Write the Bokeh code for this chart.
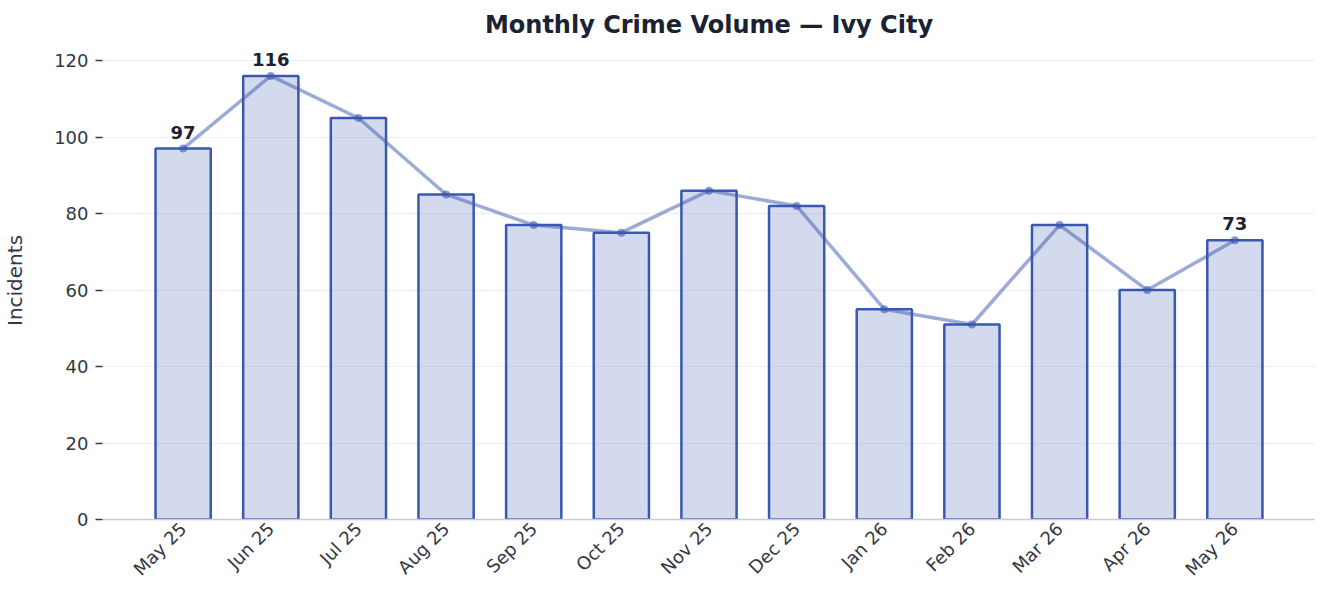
import math
from bokeh.plotting import figure
from bokeh.models import ColumnDataSource, FactorRange, Range1d, LabelSet
from bokeh.core.properties import value
from bokeh.embed import file_html
from bokeh.resources import INLINE

months = ["May 25", "Jun 25", "Jul 25", "Aug 25", "Sep 25", "Oct 25", "Nov 25",
          "Dec 25", "Jan 26", "Feb 26", "Mar 26", "Apr 26", "May 26"]
incidents = [97, 116, 105, 85, 77, 75, 86, 82, 55, 51, 77, 60, 73]
y_ticks = [0, 20, 40, 60, 80, 100, 120]

labelled = [0, incidents.index(max(incidents)), len(incidents) - 1]

src = ColumnDataSource(dict(x=months, y=incidents))
lab_src = ColumnDataSource(dict(x=[months[i] for i in labelled],
                                y=[incidents[i] for i in labelled],
                                t=[str(incidents[i]) for i in labelled]))

FONT = "DejaVu Sans"
BLUE = "#3a58b0"
TXT = "#333844"

p = figure(frame_width=1213, frame_height=478, output_backend="svg",
           toolbar_location=None,
           x_range=FactorRange(factors=months, range_padding=0.42,
                               range_padding_units="absolute"),
           y_range=Range1d(0, 125),
           min_border_left=99, min_border_right=0, min_border_top=41,
           min_border_bottom=72)

p.title.text = "Monthly Crime Volume \u2014 Ivy City"
p.title.align = "center"
p.title.text_font = FONT
p.title.text_font_size = "24px"
p.title.text_font_style = "bold"
p.title.text_color = "#1a2233"
p.title.offset = 0
p.title.standoff = 6

p.vbar(x="x", top="y", width=0.63, source=src, fill_color=BLUE, fill_alpha=0.22,
       line_color=BLUE, line_width=2.5)
p.line(x="x", y="y", source=src, line_color=BLUE, line_alpha=0.5, line_width=3.5)
p.scatter(x="x", y="y", source=src, size=8, fill_color=BLUE, line_color=BLUE,
          fill_alpha=0.6, line_alpha=0.0)

labels = LabelSet(x="x", y="y", text="t", source=lab_src, y_offset=10,
                  text_align="center", text_baseline="bottom",
                  text_font=value(FONT), text_font_size=value("18px"),
                  text_font_style=value("bold"), text_color=value("#1a2233"))
p.add_layout(labels)

p.outline_line_color = None
p.xgrid.grid_line_color = None
p.ygrid.grid_line_color = "#eceef3"
p.ygrid.grid_line_width = 1
p.yaxis.ticker = y_ticks

p.yaxis.axis_label = "Incidents"
p.yaxis.axis_label_text_font = FONT
p.yaxis.axis_label_text_font_size = "20px"
p.yaxis.axis_label_text_font_style = "normal"
p.yaxis.axis_label_text_color = TXT
p.yaxis.axis_label_standoff = 24
p.yaxis.axis_line_color = None
p.yaxis.major_tick_line_color = TXT
p.yaxis.major_tick_line_width = 1.5
p.yaxis.major_tick_in = 0
p.yaxis.major_tick_out = 7
p.yaxis.minor_tick_line_color = None
p.yaxis.major_label_text_font = FONT
p.yaxis.major_label_text_font_size = "18px"
p.yaxis.major_label_text_color = TXT
p.yaxis.major_label_standoff = 7

p.xaxis.axis_line_color = "#c9ccd8"
p.xaxis.axis_line_width = 1.5
p.xaxis.major_tick_line_color = None
p.xaxis.major_tick_in = 0
p.xaxis.major_tick_out = 0
p.xaxis.minor_tick_line_color = None
p.xaxis.major_label_orientation = math.pi / 4
p.xaxis.major_label_text_font = FONT
p.xaxis.major_label_text_font_size = "18px"
p.xaxis.major_label_text_color = TXT
p.xaxis.major_label_standoff = 6

open("out.html", "w").write(file_html(p, INLINE))
